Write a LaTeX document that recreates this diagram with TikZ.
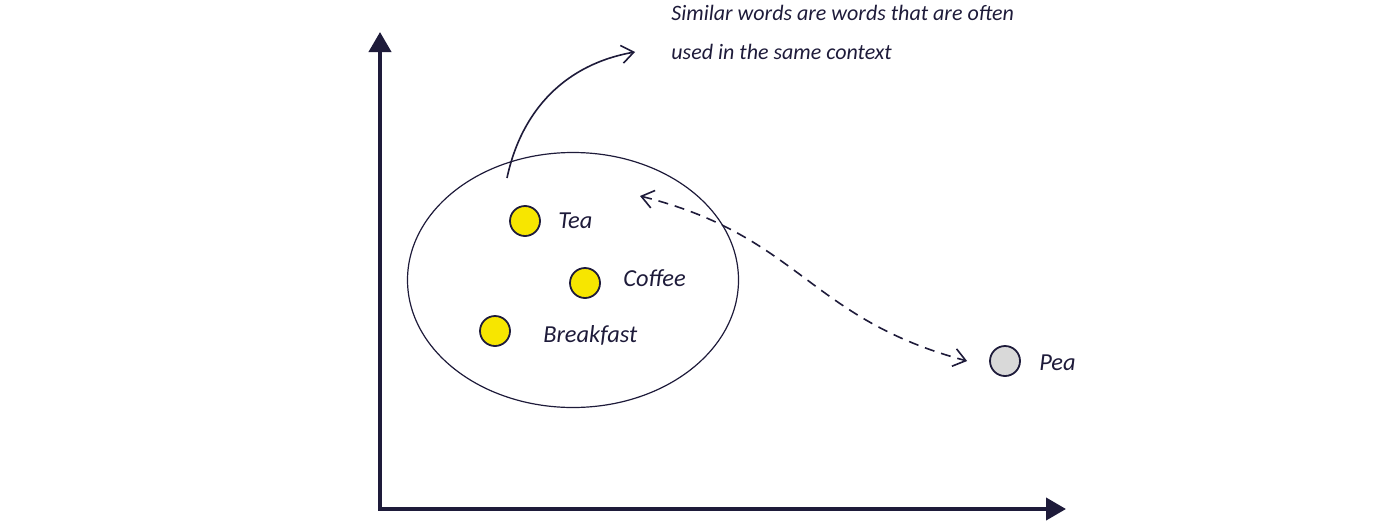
\documentclass[tikz,border=0pt]{standalone}
\usepackage{fontspec}
\setmainfont{Carlito}
\usepackage{xcolor}
\usetikzlibrary{arrows.meta,positioning,shapes.geometric}
\definecolor{ink}{HTML}{1E1B3A}
\definecolor{dotyellow}{HTML}{F7E600}
\definecolor{dotgrey}{HTML}{D9D9D9}

\begin{document}
\begin{tikzpicture}[x=0.5pt, y=0.5pt,
    axis/.style={draw=ink, line width=2pt, line join=miter, {Triangle[length=10pt,width=11pt]}-{Triangle[length=10pt,width=11pt]}},
    word/.style={circle, draw=ink, line width=0.9pt, minimum size=15pt, inner sep=0pt},
    lbl/.style={font=\fontsize{12.2}{14}\selectfont\itshape, text=ink, inner sep=0pt},
    note/.style={font=\fontsize{11}{19.5}\selectfont\itshape, text=ink, align=left, inner sep=0pt},
    link/.style={draw=ink, line width=0.8pt, -{Straight Barb[length=6pt,width=9pt]}},
    dashlink/.style={draw=ink, line width=0.8pt, dash pattern=on 5pt off 3.5pt, {Straight Barb[length=6pt,width=9pt]}-{Straight Barb[length=6pt,width=9pt]}}
  ]
    \useasboundingbox (0,0) rectangle (1400,521);

    \coordinate (o) at (380,12);
    \coordinate (ytip) at (380,489);
    \coordinate (xtip) at (1066,12);
    \draw[axis] (ytip) -- (o) -- (xtip);

    \node[draw=ink, ellipse, line width=0.6pt, minimum width=165.5pt, minimum height=127.5pt, inner sep=0pt] (cluster) at (573,241) {};

    \node[word, fill=dotyellow] (tea) at (525,300) {};
    \node[lbl, right=8.5pt of tea] (tealbl) {Tea};
    \node[word, fill=dotyellow] (coffee) at (585,238) {};
    \node[lbl, right=11pt of coffee, yshift=2.5pt] (coffeelbl) {Coffee};
    \node[word, fill=dotyellow] (breakfast) at (495,190) {};
    \node[lbl, right=16pt of breakfast, yshift=-2pt] (breakfastlbl) {Breakfast};
    \node[word, fill=dotgrey] (pea) at (1005,160) {};
    \node[lbl, right=9pt of pea, yshift=-1pt] (pealbl) {Pea};

    \node[note, anchor=north west] (note) at (671,516) {Similar words are words that are often\\used in the same context};

    \coordinate (from) at (507,343);
    \coordinate (to) at (635,469);
    \draw[link] (from) to[out=78, in=190] (to);

    \coordinate (near) at (640,325);
    \coordinate[left=11pt of pea] (peatip);
    \draw[dashlink] (near) to[out=-14, in=165, looseness=1.15] (peatip);
\end{tikzpicture}
\end{document}
